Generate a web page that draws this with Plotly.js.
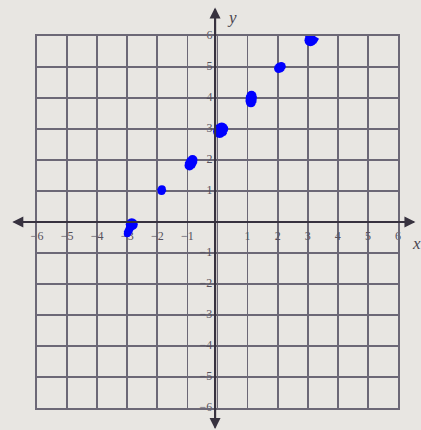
<!DOCTYPE html>
<html>
<head>
<meta charset="utf-8">
<script src="https://cdn.plot.ly/plotly-3.0.1.min.js"></script>
<style>
  html, body { margin: 0; padding: 0; background: #e8e6e2; }
  #plot { width: 421px; height: 430px; }
</style>
</head>
<body>
<div id="plot"></div>
<script>
// Grid extent and labelled integer ticks
const gridMin = -6;
const gridMax = 6;
const xTickValues = [-6, -5, -4, -3, -2, -1, 1, 2, 3, 4, 5, 6];
const xTickLabels = ['\u22126', '\u22125', '\u22124', '\u22123', '\u22122', '\u22121', '1', '2', '3', '4', '5', '6'];
const yTickValues = [6, 5, 4, 3, 2, 1, -1, -2, -3, -4, -5, -6];
const yTickLabels = ['6', '5', '4', '3', '2', '1', '\u22121', '\u22122', '\u22123', '\u22124', '\u22125', '\u22126'];

// Axis arrows reach a little past the grid
const xAxisEnds = [-6.82, 6.58];
const yAxisEnds = [-6.68, 6.92];

// Plotted points (hand-marked), each drawn as a short pen stroke
const markX0 = [-3.00, -1.86, -0.93, 0.07, 1.11, 2.03, 3.09];
const markY0 = [-0.38, 1.00, 1.82, 2.92, 3.86, 4.95, 5.86];
const markX1 = [-2.85, -1.85, -0.83, 0.14, 1.13, 2.12, 3.19];
const markY1 = [-0.07, 1.06, 2.00, 3.00, 4.07, 5.02, 6.02];
const markW0 = [7, 8, 10, 13, 10, 9, 12];
const markW1 = [12, 8, 10, 13, 10, 9, 12];

// Plot box in pixels, used to place items that sit outside the grid
const box = { l: 37, r: 23, t: 36, b: 22, w: 421, h: 430 };
const pxPerX = (box.w - box.l - box.r) / (gridMax - gridMin);
const pxPerY = (box.h - box.t - box.b) / (gridMax - gridMin);
const paperX = v => (v - gridMin) / (gridMax - gridMin);
const paperY = v => (v - gridMin) / (gridMax - gridMin);

const ink = '#0000ff';
const penTraces = markX0.map((x0, i) => ({
  type: 'scatter',
  mode: 'lines+markers',
  x: [x0, markX1[i]],
  y: [markY0[i], markY1[i]],
  line: { color: ink, width: Math.min(markW0[i], markW1[i]) + 1 },
  marker: { color: ink, size: [markW0[i], markW1[i]], opacity: 1, line: { width: 0 } },
  hoverinfo: 'skip',
  showlegend: false,
  cliponaxis: false
}));

const labelFont = { family: 'Liberation Serif, DejaVu Serif, serif', size: 12, color: '#55505c' };

const traces = [
  {
    type: 'scatter', mode: 'text',
    x: xTickValues, y: xTickValues.map(() => -0.48),
    text: xTickLabels, textposition: 'middle center',
    textfont: labelFont,
    hoverinfo: 'skip', showlegend: false, cliponaxis: false
  },
  {
    type: 'scatter', mode: 'text',
    x: yTickValues.map(() => -0.17), y: yTickValues,
    text: yTickLabels, textposition: 'middle left',
    textfont: labelFont,
    hoverinfo: 'skip', showlegend: false, cliponaxis: false
  },
  ...penTraces
];

const axisInk = '#37323f';
const gridInk = '#6c6876';
const arrowStyle = { text: '', showarrow: true, arrowhead: 2, arrowsize: 1.1, arrowwidth: 2, arrowcolor: axisInk };
const xSpanPx = (xAxisEnds[1] - xAxisEnds[0]) * pxPerX;
const ySpanPx = (yAxisEnds[1] - yAxisEnds[0]) * pxPerY;
const yAxisX = -0.08;

const layout = {
  width: box.w,
  height: box.h,
  margin: { l: box.l, r: box.r, t: box.t, b: box.b },
  paper_bgcolor: '#e8e6e2',
  plot_bgcolor: '#e8e6e2',
  showlegend: false,
  xaxis: {
    range: [gridMin, gridMax],
    dtick: 1, tick0: 0,
    showgrid: true, gridcolor: gridInk, gridwidth: 1.8,
    zeroline: false,
    showline: true, mirror: true, linecolor: gridInk, linewidth: 1.8,
    showticklabels: false, ticks: '',
    fixedrange: true
  },
  yaxis: {
    range: [gridMin, gridMax],
    dtick: 1, tick0: 0,
    showgrid: true, gridcolor: gridInk, gridwidth: 1.8,
    zeroline: false,
    showline: true, mirror: true, linecolor: gridInk, linewidth: 1.8,
    showticklabels: false, ticks: '',
    fixedrange: true
  },
  annotations: [
    // x axis, arrowheads at both ends
    Object.assign({ xref: 'paper', yref: 'y', x: paperX(xAxisEnds[1]), y: 0, axref: 'pixel', ayref: 'pixel', ax: -xSpanPx, ay: 0 }, arrowStyle),
    Object.assign({ xref: 'paper', yref: 'y', x: paperX(xAxisEnds[0]), y: 0, axref: 'pixel', ayref: 'pixel', ax: xSpanPx, ay: 0 }, arrowStyle),
    // y axis, arrowheads at both ends
    Object.assign({ xref: 'x', yref: 'paper', x: yAxisX, y: paperY(yAxisEnds[1]), axref: 'pixel', ayref: 'pixel', ax: 0, ay: ySpanPx }, arrowStyle),
    Object.assign({ xref: 'x', yref: 'paper', x: yAxisX, y: paperY(yAxisEnds[0]), axref: 'pixel', ayref: 'pixel', ax: 0, ay: -ySpanPx }, arrowStyle),
    {
      xref: 'paper', yref: 'y', x: paperX(6.62), y: -0.68, text: '<i>x</i>', showarrow: false,
      font: { family: 'Liberation Serif, DejaVu Serif, serif', size: 17, color: '#4a4550' },
      xanchor: 'center', yanchor: 'middle'
    },
    {
      xref: 'x', yref: 'paper', x: 0.47, y: paperY(6.6), text: '<i>y</i>', showarrow: false,
      font: { family: 'Liberation Serif, DejaVu Serif, serif', size: 17, color: '#4a4550' },
      xanchor: 'center', yanchor: 'middle'
    }
  ]
};

Plotly.newPlot('plot', traces, layout, { displayModeBar: false, staticPlot: true });
</script>
</body>
</html>
